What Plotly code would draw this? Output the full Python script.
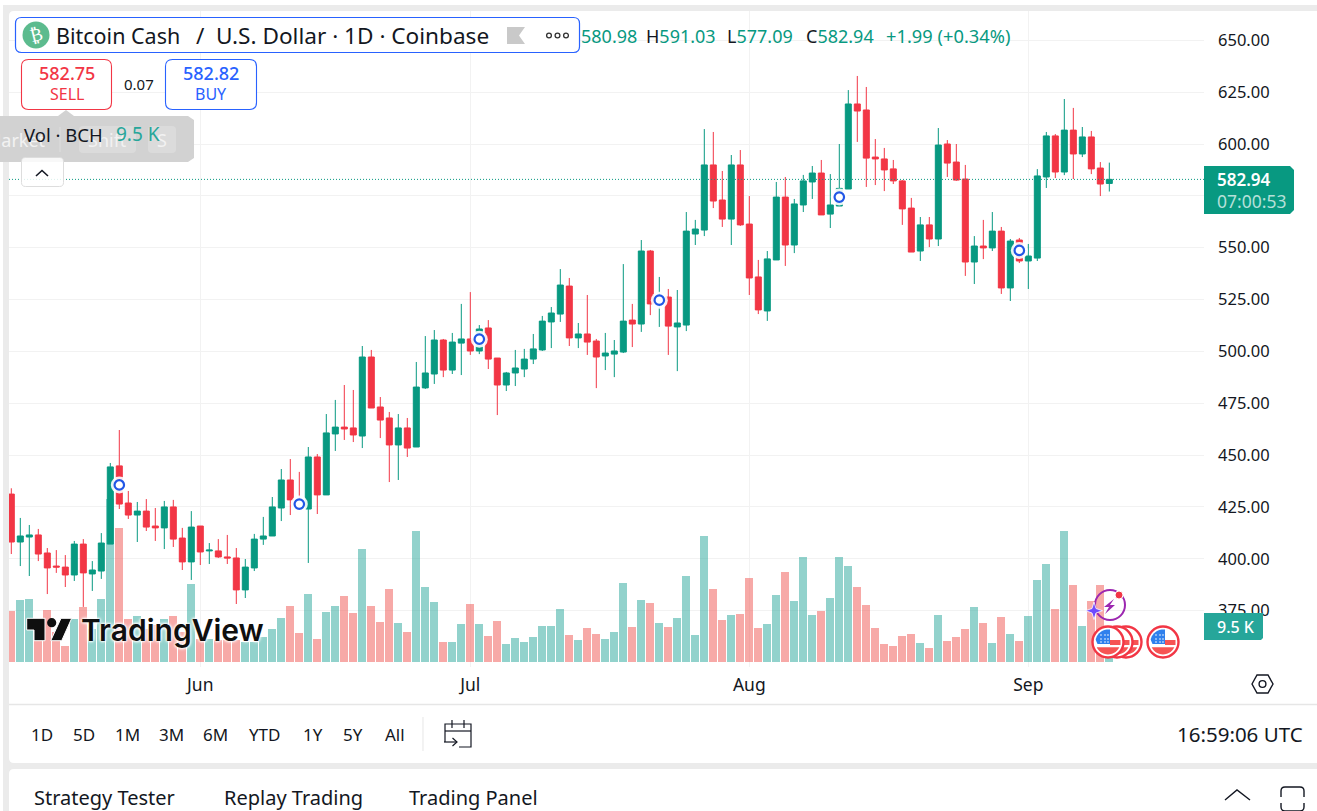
"""
BCH/USD daily chart - TradingView style screenshot rebuilt in Plotly
"""

import math

import pandas as pd
import plotly.graph_objects as go

WIDTH = 1317
HEIGHT = 811

FIRST_DAY = "2025-05-11"

open_prices = [
    431.2, 408.1, 410.5, 411.5, 402.8, 396.5, 396.0, 392.2, 407.1, 392.7,
    394.1, 407.1, 444.8, 426.9, 421.1, 423.0, 415.8, 414.9, 425.0, 410.0,
    398.5, 415.8, 403.8, 403.8, 400.9, 400.4, 385.0, 395.6, 409.5, 411.0,
    424.5, 438.0, 428.4, 424.0, 449.1, 430.8, 460.2, 463.5, 463.1, 459.2,
    497.3, 473.2, 467.9, 454.9, 463.1, 453.9, 482.4, 489.1, 505.5, 491.0,
    504.0, 506.0, 500.2, 511.3, 496.8, 483.8, 489.6, 491.5, 496.3, 500.7,
    514.2, 518.0, 531.5, 506.5, 508.4, 505.0, 497.8, 498.7, 499.7, 515.1,
    513.2, 548.4, 522.9, 526.2, 511.8, 512.7, 556.6, 558.5, 589.9, 573.0,
    563.8, 589.9, 561.4, 535.9, 519.5, 544.1, 574.4, 551.3, 570.6, 581.7,
    586.0, 566.2, 570.1, 578.3, 619.3, 616.4, 593.7, 592.8, 588.0, 582.2,
    569.1, 548.4, 561.0, 554.2, 600.0, 591.3, 583.1, 543.1, 550.8, 549.9,
    558.0, 530.6, 553.7, 543.6, 545.0, 584.1, 603.9, 586.5, 606.7, 595.2,
    603.4, 588.4, 580.98,
]
close_prices = [
    408.1, 411.0, 411.5, 402.3, 395.6, 396.0, 392.2, 407.1, 393.2, 394.6,
    407.6, 444.3, 426.4, 421.1, 423.0, 415.3, 414.9, 425.0, 409.5, 398.5,
    415.3, 403.3, 404.2, 400.9, 400.4, 385.0, 396.0, 409.5, 411.0, 425.0,
    438.0, 428.4, 424.0, 449.1, 430.8, 460.7, 463.5, 462.6, 459.7, 497.3,
    472.7, 466.9, 454.9, 463.1, 453.4, 482.8, 489.6, 505.5, 491.0, 504.5,
    506.0, 500.2, 510.8, 496.3, 483.8, 489.6, 492.0, 496.3, 501.2, 514.6,
    518.5, 532.0, 506.5, 508.4, 504.5, 497.3, 499.2, 500.2, 514.6, 513.2,
    548.4, 522.9, 526.2, 512.2, 513.7, 558.0, 559.0, 589.9, 572.5, 563.8,
    589.9, 561.0, 535.4, 520.0, 544.6, 574.4, 551.3, 571.1, 582.2, 586.0,
    565.8, 570.6, 578.6, 619.3, 615.9, 593.2, 592.8, 587.5, 582.2, 568.7,
    547.9, 561.0, 554.2, 599.5, 590.8, 582.6, 543.1, 550.8, 549.9, 558.0,
    530.6, 553.2, 543.6, 546.0, 584.6, 603.9, 586.5, 606.7, 595.2, 603.4,
    588.0, 580.7, 582.94,
]
high_prices = [
    434.0, 419.7, 416.3, 414.4, 405.2, 404.2, 401.8, 408.6, 409.5, 398.9,
    412.4, 446.2, 462.1, 432.7, 427.4, 428.8, 424.5, 427.9, 428.4, 414.9,
    423.0, 415.8, 407.6, 409.5, 411.5, 405.2, 399.9, 412.0, 420.2, 429.8,
    443.3, 448.1, 441.9, 453.9, 450.5, 469.8, 476.6, 483.8, 481.4, 502.6,
    500.7, 478.0, 470.8, 469.8, 467.9, 494.9, 507.4, 510.3, 506.0, 508.9,
    522.9, 528.6, 512.7, 515.1, 496.8, 490.1, 500.7, 501.2, 508.4, 517.1,
    521.4, 539.7, 535.4, 513.7, 527.2, 506.0, 508.9, 505.5, 542.1, 522.9,
    553.7, 548.9, 535.9, 530.1, 529.6, 567.2, 563.4, 607.2, 605.8, 587.0,
    594.7, 597.1, 574.9, 544.1, 548.4, 581.7, 584.1, 573.5, 585.1, 589.4,
    592.3, 585.5, 600.0, 626.0, 632.8, 627.5, 602.4, 598.1, 592.3, 582.6,
    574.0, 564.8, 564.8, 607.7, 601.9, 600.0, 589.9, 555.6, 563.4, 567.2,
    560.0, 554.2, 554.7, 551.8, 587.9, 605.8, 604.8, 621.7, 617.4, 608.2,
    606.3, 591.3, 591.03,
]
low_prices = [
    402.3, 396.5, 391.7, 398.9, 383.0, 393.2, 386.4, 389.3, 376.8, 384.5,
    390.3, 407.1, 424.0, 419.2, 408.1, 413.4, 408.6, 404.7, 405.7, 394.6,
    389.8, 397.0, 397.5, 400.4, 397.5, 378.2, 381.1, 394.1, 406.7, 411.0,
    418.2, 421.1, 424.0, 398.0, 421.6, 430.8, 452.0, 457.3, 456.3, 453.4,
    472.7, 458.2, 437.0, 438.0, 449.1, 453.9, 481.9, 484.3, 487.6, 489.1,
    488.6, 498.3, 498.7, 491.5, 469.3, 480.9, 483.3, 487.6, 493.9, 500.2,
    501.6, 514.2, 502.6, 501.6, 498.3, 482.3, 491.0, 487.6, 499.2, 502.1,
    509.4, 517.5, 511.8, 498.3, 490.5, 509.8, 551.3, 555.6, 569.1, 560.0,
    551.3, 560.5, 527.2, 518.0, 514.7, 544.1, 541.2, 547.4, 567.2, 573.5,
    565.8, 559.5, 570.1, 578.3, 601.0, 579.3, 580.2, 577.3, 580.7, 561.0,
    547.9, 543.6, 550.3, 550.8, 584.1, 582.2, 536.4, 532.5, 544.5, 548.4,
    527.7, 524.3, 542.6, 530.1, 543.6, 578.8, 583.6, 585.0, 583.1, 593.7,
    585.5, 574.9, 577.09,
]
# volume in thousands of BCH
volume_k = [
    13.7, 16.7, 17.0, 9.0, 14.0, 8.1, 4.3, 11.5, 14.8, 9.0,
    17.0, 43.9, 36.1, 11.6, 12.4, 9.0, 9.9, 11.6, 12.4, 8.1,
    21.0, 6.3, 6.3, 5.8, 5.8, 5.8, 5.4, 5.4, 6.7, 8.9,
    11.8, 15.1, 7.8, 18.3, 6.2, 13.5, 15.1, 17.8, 13.2, 30.4,
    15.1, 10.8, 19.6, 10.5, 8.1, 35.3, 20.2, 16.1, 5.4, 5.4,
    10.2, 15.6, 10.2, 7.0, 11.0, 4.8, 6.5, 5.4, 6.7, 9.7,
    9.7, 14.3, 7.3, 5.9, 9.1, 7.5, 6.2, 8.1, 21.3, 9.4,
    16.7, 15.9, 10.5, 9.4, 11.8, 23.1, 7.3, 33.9, 19.6, 11.3,
    12.6, 12.9, 22.6, 9.1, 10.2, 18.0, 24.2, 16.4, 28.3, 12.6,
    13.7, 17.2, 28.3, 25.8, 20.2, 15.3, 9.1, 4.8, 4.3, 7.0,
    7.5, 5.1, 3.8, 12.6, 5.7, 6.7, 8.9, 14.8, 10.5, 5.1,
    12.1, 7.5, 5.7, 12.4, 22.1, 26.4, 14.3, 35.3, 20.7, 9.7,
    16.4, 20.7, 9.5,
]

# blue event dots sitting on the candles
event_days = ["2025-05-23", "2025-06-12", "2025-07-02", "2025-07-22", "2025-08-11", "2025-08-31"]
event_prices = [435.6, 426.4, 505.9, 524.7, 574.4, 548.7]

price_ticks = [375, 400, 425, 450, 475, 500, 525, 550, 575, 600, 625, 650]
month_ticks = ["2025-06-01", "2025-07-01", "2025-08-01", "2025-09-01"]
month_labels = ["Jun", "Jul", "Aug", "Sep"]

ranges = ["1D", "5D", "1M", "3M", "6M", "YTD", "1Y", "5Y", "All"]
range_x = [42, 84, 127, 171, 215, 264, 313, 353, 395]

tabs = ["Strategy Tester", "Replay Trading", "Trading Panel"]
tab_x = [32, 222, 407]

GREEN = "#089981"
RED = "#F23645"
BLUE = "#2962FF"
TEAL = "#26A69A"
INK = "#131722"
GREY = "#EBEBEB"
FONT = "Noto Sans, sans-serif"

shapes = []
notes = []


def fx(x):
    return x / WIDTH


def fy(y):
    return 1 - y / HEIGHT


def poly(points, close=True):
    """SVG path in paper coordinates from a list of screen pixels"""
    body = " L ".join(f"{fx(x):.5f},{fy(y):.5f}" for x, y in points)
    return "M " + body + (" Z" if close else "")


def rounded(x0, y0, x1, y1, r):
    """Rounded rectangle path, corners drawn with quadratic curves"""
    def p(x, y):
        return f"{fx(x):.5f},{fy(y):.5f}"
    return (
        f"M {p(x0 + r, y0)} L {p(x1 - r, y0)} Q {p(x1, y0)} {p(x1, y0 + r)} "
        f"L {p(x1, y1 - r)} Q {p(x1, y1)} {p(x1 - r, y1)} "
        f"L {p(x0 + r, y1)} Q {p(x0, y1)} {p(x0, y1 - r)} "
        f"L {p(x0, y0 + r)} Q {p(x0, y0)} {p(x0 + r, y0)} Z"
    )


def add_path(path, fill="rgba(0,0,0,0)", line=None, width=1, layer="above"):
    shapes.append(dict(
        type="path", path=path, xref="paper", yref="paper", layer=layer,
        fillcolor=fill,
        line=dict(color=line or "rgba(0,0,0,0)", width=width if line else 0),
    ))


def add_circle(cx, cy, r, fill="rgba(0,0,0,0)", line=None, width=1):
    shapes.append(dict(
        type="circle", xref="paper", yref="paper", layer="above",
        x0=fx(cx - r), x1=fx(cx + r), y0=fy(cy + r), y1=fy(cy - r),
        fillcolor=fill,
        line=dict(color=line or "rgba(0,0,0,0)", width=width if line else 0),
    ))


def add_text(x, y, text, size=16, color=INK, anchor="left", **font_extra):
    notes.append(dict(
        xref="paper", yref="paper", x=fx(x), y=fy(y), text=text, showarrow=False,
        xanchor=anchor, yanchor="middle",
        font=dict(family=FONT, size=size, color=color, **font_extra),
    ))


def arc(cx, cy, r, a0, a1, steps=14):
    return [
        (cx + r * math.cos(math.radians(a0 + (a1 - a0) * k / steps)),
         cy + r * math.sin(math.radians(a0 + (a1 - a0) * k / steps)))
        for k in range(steps + 1)
    ]


def add_flag(cx, cy):
    """Round US flag event marker"""
    add_circle(cx, cy, 15.5, fill="white", line=RED, width=2.4)
    r = 12.5
    # canton
    add_path(poly([(cx - 10.5, cy + 2)] + arc(cx, cy, r, 190, 270) + [(cx + 2, cy - r), (cx + 2, cy + 2)]), fill="#2F80ED")
    for dx in (-7, -3, 0):
        for dy in (-7, -3, 0):
            add_circle(cx + dx, cy + dy, 0.8, fill="white")
    # stripes
    add_path(poly([(cx + 2, cy - 2), (cx + r, cy - 2), (cx + r, cy + 3), (cx + 2, cy + 3)]), fill="#F65454")
    add_path(poly(arc(cx, cy, r, 25, 155)), fill="#F65454")


dates = pd.date_range(FIRST_DAY, periods=len(open_prices), freq="D")
colors = [
    "rgba(38,166,154,0.5)" if c >= o else "rgba(239,83,80,0.5)"
    for o, c in zip(open_prices, close_prices)
]

# page panels
add_path(poly([(3, 5), (WIDTH, 5), (WIDTH, HEIGHT), (3, HEIGHT)]), fill=GREY, layer="below")
add_path(rounded(9, 11, WIDTH + 8, 763, 5), fill="white", layer="below")
add_path(rounded(9, 769, WIDTH + 8, HEIGHT + 8, 5), fill="white", layer="below")
add_path(poly([(9, 704.5), (WIDTH, 704.5)], close=False), line="#E6E6E6", width=1.5, layer="below")
add_path(poly([(423, 717), (423, 751)], close=False), line="#E6E6E6", width=1, layer="below")

# last price line
shapes.append(dict(
    type="line", xref="paper", yref="y2", x0=fx(9), x1=fx(1204),
    y0=close_prices[-1], y1=close_prices[-1], layer="above",
    line=dict(color=GREEN, width=1, dash="1px,2px"),
))

# symbol bar
add_path(rounded(15.5, 17.5, 579.5, 52.5, 6), fill="white", line=BLUE, width=1.2)
add_circle(36, 35, 13.5, fill="#5CBB8E")
notes.append(dict(
    xref="paper", yref="paper", x=fx(36), y=fy(35), text="₿", showarrow=False, textangle=-14,
    xanchor="center", yanchor="middle", font=dict(family="DejaVu Sans", size=18, color="white"),
))
add_text(54, 35.5, "Bitcoin Cash", size=21.5)
add_text(194, 35.5, "/", size=22.5)
add_text(214, 35.5, "U.S. Dollar · 1D · Coinbase", size=22.6)
add_path(poly([(507, 27), (525, 27), (519, 35.5), (525, 44), (507, 44)]), fill="#C9C9C9")
for dot_x in (549, 557.5, 566):
    add_circle(dot_x, 35.5, 2.4, fill="white", line="#333333", width=1.3)

# OHLC line
add_text(579, 35.5, "580.98", size=18, color=GREEN)
add_text(644, 35.5, f"H<span style='color:{GREEN}'>591.03</span>", size=18)
add_text(725, 35.5, f"L<span style='color:{GREEN}'>577.09</span>", size=18)
add_text(804, 35.5, f"C<span style='color:{GREEN}'>582.94</span>", size=18)
add_text(884, 35.5, "+1.99 (+0.34%)", size=18.3, color=GREEN)

# sell / buy
add_path(rounded(21.5, 59.5, 111.5, 109.5, 7), fill="white", line=RED, width=1.1)
add_text(66.5, 73, "582.75", size=18, color=RED, anchor="center", weight=500)
add_text(66.5, 94, "SELL", size=16, color=RED, anchor="center")
add_text(139, 84.5, "0.07", size=15, anchor="center")
add_path(rounded(165.5, 59.5, 256.5, 109.5, 7), fill="white", line=BLUE, width=1.1)
add_text(211, 73, "582.82", size=18, color=BLUE, anchor="center", weight=500)
add_text(211, 94, "BUY", size=16, color=BLUE, anchor="center")

# hint tooltip over the volume legend
add_path(poly([(0, 116), (58, 116), (66, 110), (74, 116), (188, 116), (194, 120), (194, 158), (188, 162), (0, 162)]), fill="#D2D2D2")
add_path(rounded(79, 126, 136, 153, 4), fill="#DBDBDB")
add_path(rounded(148, 126, 176, 153, 4), fill="#DBDBDB")
add_path(poly([(60, 127), (60, 152)], close=False), line="#DEDEDE", width=1)
add_text(48, 140, "Market", size=18, color="#F2F2F2", anchor="right")
add_text(107, 140, "Shift", size=18, color="#F2F2F2", anchor="center")
add_text(162, 140, "S", size=18, color="#F2F2F2", anchor="center")
add_text(22, 134, "Vol · BCH", size=18.5)
add_text(114, 134, "9.5 K", size=19, color=TEAL)

# collapse legend button
add_path(rounded(21.5, 157.5, 63.5, 186.5, 4), fill="rgba(255,255,255,0.85)", line="#DDDDDD", width=1)
add_path(poly([(36, 176), (42, 170.5), (48, 176)], close=False), line=INK, width=1.6)

# price and volume tags
add_path(poly([(1204, 166), (1290, 166), (1294, 170), (1294, 210), (1290, 214), (1204, 214)]), fill=GREEN)
add_text(1215, 180, "582.94", size=17, color="white", weight=600)
add_text(1215, 201, "07:00:53", size=17.5, color="#B5E0D9")
add_path(poly([(1204, 613), (1263, 613), (1263, 638), (1261, 640), (1204, 640)]), fill=TEAL)
add_text(1236, 626.5, "9.5 K", size=16, color="white", anchor="center", weight=500)

# TradingView watermark
add_path(poly([(26.7, 618.3), (45, 618.3), (45, 640.7), (34, 640.7), (34, 630), (26.7, 630)]), fill="#0F0F0F", line="white", width=1)
add_circle(51.7, 622.7, 4.6, fill="#0F0F0F")
add_path(poly([(61, 618.3), (71.7, 618.3), (61.7, 640.7), (50.7, 640.7)]), fill="#0F0F0F", line="white", width=1)
notes.append(dict(
    xref="paper", yref="paper", x=fx(79), y=fy(630), text="TradingView", showarrow=False,
    xanchor="left", yanchor="middle",
    font=dict(family="Inter", size=30, color="#0F0F0F", weight=600,
              shadow="0 0 2px #fff, 0 0 3px #fff, 0 0 3px #fff, 0 0 4px #fff"),
))

# event markers at the chart's right end
add_flag(1126, 642)
add_flag(1117, 642)
add_flag(1108, 642)
add_flag(1163, 642)
add_circle(1110, 605, 15, fill="rgba(0,0,0,0)", line="#9C27B0", width=2)
add_path(poly([(1114, 599), (1104, 607), (1109, 607), (1105, 614), (1115, 605), (1110, 605)]), fill="#9C27B0")
add_path(poly([(1094, 602), (1096, 608.5), (1102.5, 610.7), (1096, 613), (1094, 619.5), (1092, 613), (1085.5, 610.7), (1092, 608.5)]),
         fill="#6E4BFF", line="white", width=0.8)
add_circle(1119, 595, 4, fill=RED, line="white", width=1)

# settings hexagon
add_path(poly([(1252, 684), (1257, 675), (1268, 675), (1273, 684), (1268, 693), (1257, 693)]), line=INK, width=1.4)
add_circle(1262.5, 684, 3.4, line=INK, width=1.4)

# bottom toolbar
for label, x in zip(ranges, range_x):
    add_text(x, 734, label, size=17, anchor="center")
add_path(poly([(445, 742), (445, 724), (471, 724), (471, 747), (459, 747)], close=False), line=INK, width=1.2)
add_path(poly([(445, 731), (471, 731)], close=False), line=INK, width=1.2)
add_path(poly([(452, 720), (452, 728)], close=False), line=INK, width=1.2)
add_path(poly([(464, 720), (464, 728)], close=False), line=INK, width=1.2)
add_path(poly([(444, 742), (457, 742)], close=False), line=INK, width=1.2)
add_path(poly([(452.5, 738), (457, 742), (452.5, 746)], close=False), line=INK, width=1.2)
add_text(1305, 734, "16:59:06 UTC", size=20.5, anchor="right")
for label, x in zip(tabs, tab_x):
    add_text(x, 797, label, size=20)
add_path(poly([(1225, 800), (1237, 790), (1250, 800)], close=False), line=INK, width=1.4)
add_path(rounded(1281, 787, 1304, 811, 4), line=INK, width=1.4)
add_path(poly([(1281, 797), (1281, 803)]), line="white", width=3)
add_path(poly([(1304, 797), (1304, 803)]), line="white", width=3)

fig = go.Figure()

# volume on the base axis so the candles stay on top
fig.add_trace(go.Bar(
    x=dates, y=volume_k, marker=dict(color=colors, line=dict(width=0)),
    width=8 / 9 * 86400000, yaxis="y", showlegend=False, name="Vol",
))

fig.add_trace(go.Candlestick(
    x=dates, open=open_prices, high=high_prices, low=low_prices, close=close_prices,
    increasing=dict(line=dict(color=GREEN, width=1), fillcolor=GREEN),
    decreasing=dict(line=dict(color=RED, width=1), fillcolor=RED),
    whiskerwidth=0, yaxis="y2", showlegend=False, name="BCHUSD",
))

fig.add_trace(go.Scatter(
    x=event_days, y=event_prices, mode="markers", yaxis="y2", showlegend=False,
    marker=dict(size=17, color="rgba(255,255,255,0.9)"), hoverinfo="skip",
))
fig.add_trace(go.Scatter(
    x=event_days, y=event_prices, mode="markers", yaxis="y2", showlegend=False,
    marker=dict(size=9.5, color="white", line=dict(color="#2257E6", width=2.2)), hoverinfo="skip",
))

start = pd.Timestamp(FIRST_DAY)
fig.update_layout(
    width=WIDTH,
    height=HEIGHT,
    margin=dict(l=0, r=0, t=0, b=0),
    paper_bgcolor="white",
    plot_bgcolor="rgba(0,0,0,0)",
    font=dict(family=FONT, color=INK),
    bargap=0,
    boxgap=1 / 3,
    boxgroupgap=0,
    xaxis=dict(
        type="date",
        domain=[fx(9), fx(1204)],
        range=[start + pd.Timedelta(days=-0.2556), start + pd.Timedelta(days=132.52)],
        rangeslider=dict(visible=False),
        tickvals=month_ticks,
        ticktext=month_labels,
        tickfont=dict(size=17.5, color=INK),
        ticks="",
        ticklabelstandoff=5,
        showgrid=True,
        gridcolor="#F2F2F2",
        zeroline=False,
        showline=False,
    ),
    yaxis=dict(
        domain=[fy(667), fy(11)],
        range=[-1.345, 175.1],
        visible=False,
        showgrid=False,
        zeroline=False,
    ),
    yaxis2=dict(
        overlaying="y",
        side="right",
        anchor="x",
        range=[347.83, 664.13],
        tickvals=price_ticks,
        tickformat=".2f",
        tickfont=dict(size=16.5, color=INK),
        ticks="",
        ticklabelstandoff=13,
        showgrid=True,
        gridcolor="#F2F2F2",
        zeroline=False,
        showline=False,
    ),
    shapes=shapes,
    annotations=notes,
)

# the default page body margin would shift everything by 8px
fig.write_html(
    "out.html",
    config={"displayModeBar": False},
    post_script="document.body.style.margin='0';document.body.style.overflow='hidden';",
)
